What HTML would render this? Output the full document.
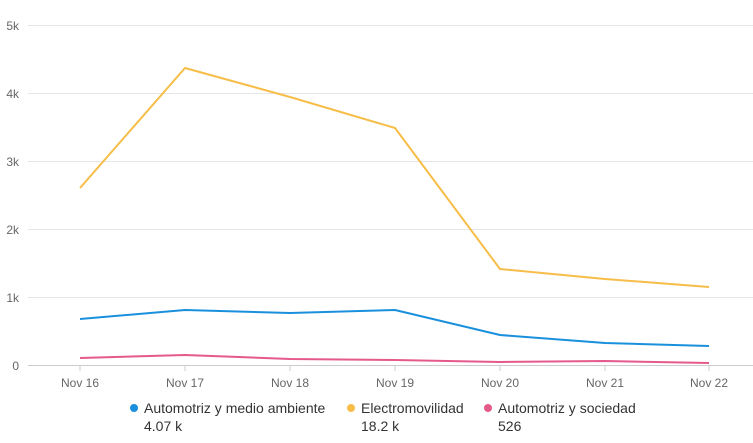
<!DOCTYPE html>
<html><head><style>body{margin:0;background:#fff}svg{display:block}</style></head><body>
<svg width="753" height="443" xmlns="http://www.w3.org/2000/svg" font-family="Liberation Sans, Arial, sans-serif">
<g stroke="#e6e6e6" stroke-width="1">
<line x1="28" x2="753" y1="25.5" y2="25.5"/><line x1="28" x2="753" y1="93.5" y2="93.5"/>
<line x1="28" x2="753" y1="161.5" y2="161.5"/><line x1="28" x2="753" y1="229.5" y2="229.5"/>
<line x1="28" x2="753" y1="297.5" y2="297.5"/>
</g>
<line x1="28" x2="753" y1="365.5" y2="365.5" stroke="#ccc"/>
<g stroke="#ccc"><line x1="80" x2="80" y1="365" y2="371"/><line x1="185" x2="185" y1="365" y2="371"/><line x1="290" x2="290" y1="365" y2="371"/><line x1="395" x2="395" y1="365" y2="371"/><line x1="500" x2="500" y1="365" y2="371"/><line x1="605" x2="605" y1="365" y2="371"/><line x1="709" x2="709" y1="365" y2="371"/></g>
<g font-size="12" fill="#666" text-anchor="end">
<text x="19" y="30">5k</text><text x="19" y="98">4k</text><text x="19" y="166">3k</text><text x="19" y="234">2k</text><text x="19" y="302">1k</text><text x="19" y="370">0</text>
</g>
<g font-size="12" fill="#666" text-anchor="middle">
<text x="80" y="387">Nov 16</text><text x="185" y="387">Nov 17</text><text x="290" y="387">Nov 18</text><text x="395" y="387">Nov 19</text><text x="500" y="387">Nov 20</text><text x="605" y="387">Nov 21</text><text x="709" y="387">Nov 22</text>
</g>
<g fill="none" stroke-width="2" stroke-linejoin="round">
<polyline stroke="#f7bd49" points="80,188 185,68 290,97 395,128 500,269 605,279 709,287"/>
<polyline stroke="#1a90dd" points="80,319 185,310 290,313 395,310 500,335 605,343 709,346"/>
<polyline stroke="#e55a8c" points="80,358 185,355 290,359 395,360 500,362 605,361 709,363"/>
</g>
<g font-size="14" fill="#333">
<circle cx="134" cy="408" r="4" fill="#1a90dd"/><text x="144" y="413">Automotriz y medio ambiente</text><text x="144" y="431">4.07 k</text>
<circle cx="351" cy="408" r="4" fill="#f7bd49"/><text x="361" y="413">Electromovilidad</text><text x="361" y="431">18.2 k</text>
<circle cx="488" cy="408" r="4" fill="#e55a8c"/><text x="498" y="413">Automotriz y sociedad</text><text x="498" y="431">526</text>
</g>
</svg>
</body></html>
